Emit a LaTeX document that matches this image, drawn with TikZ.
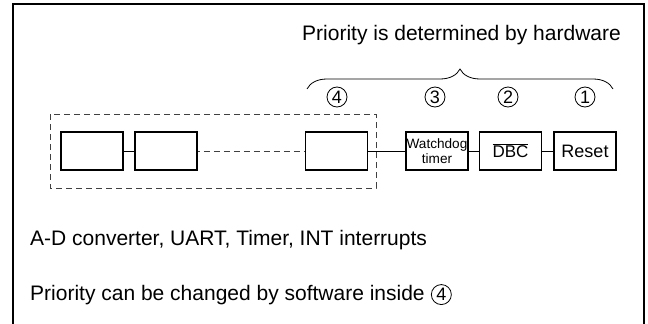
\documentclass[tikz,border=0pt]{standalone}
\usepackage{fontspec}
\setmainfont{Liberation Sans}
\usetikzlibrary{positioning, decorations.pathreplacing}

\tikzset{
  blk/.style={draw, line width=1.8pt, minimum width=62pt, minimum height=38pt, inner sep=0.5pt},
  num/.style={draw, circle, line width=0.8pt, minimum size=20pt, inner sep=0pt, font=\fontsize{18}{18}\selectfont},
  txt/.style={anchor=base west, inner sep=0pt, font=\fontsize{21}{25}\selectfont},
  link/.style={line width=0.8pt},
}

\begin{document}
\begin{tikzpicture}[x=1pt, y=-1pt]
    \useasboundingbox (0,0) rectangle (648,324);
    \draw [line width=2pt] (13,324) -- (13,4) -- (644,4) -- (644,324);

    \node [txt] (hw) at (302,40) {Priority is determined by hardware};
    \draw [decorate, decoration={brace, amplitude=20pt}, line width=0.8pt] (307,89) -- (613,89);

    \node [num] (n4) at (337,97) {4};
    \node [num] (n3) at (435,97) {3};
    \node [num] (n2) at (508,97) {2};
    \node [num] (n1) at (585,97) {1};

    \pgfmathsetmacro{\yc}{151};

    % software priority group
    \draw [gray!50!black, line width=0.8pt, dash pattern=on 6pt off 4pt] (50,114) rectangle (376,188);
    \node [blk] (b1) at (92,\yc) {};
    \node [blk] (b2) at (166,\yc) {};
    \node [blk] (b3) at (336.5,\yc) {};
    \draw [link] (b1) -- (b2);
    \draw [link, gray!50!black, dash pattern=on 6pt off 4pt, dash phase=-6pt] (b2) -- (b3);

    \node [blk, inner sep=0pt, font=\fontsize{13.6}{15.5}\selectfont, align=center] (wdt) at (437,\yc) {Watchdog\\timer};
    \node [blk, font=\fontsize{17}{20}\selectfont] (dbc) at (510.5,\yc) {$\overline{\mbox{DBC}}$};
    \node [blk, font=\fontsize{18}{20}\selectfont] (rst) at (585,\yc) {Reset};
    \draw [link] (b3) -- (wdt);
    \draw [link] (wdt) -- (dbc);
    \draw [link] (dbc) -- (rst);

    \node [txt] (ad) at (30,245) {A-D converter, UART, Timer, INT interrupts};
    \node [txt] (sw) at (30,300) {Priority can be changed by software inside};
    \node [num, right=6pt of sw] (n4b) {4};
\end{tikzpicture}
\end{document}
